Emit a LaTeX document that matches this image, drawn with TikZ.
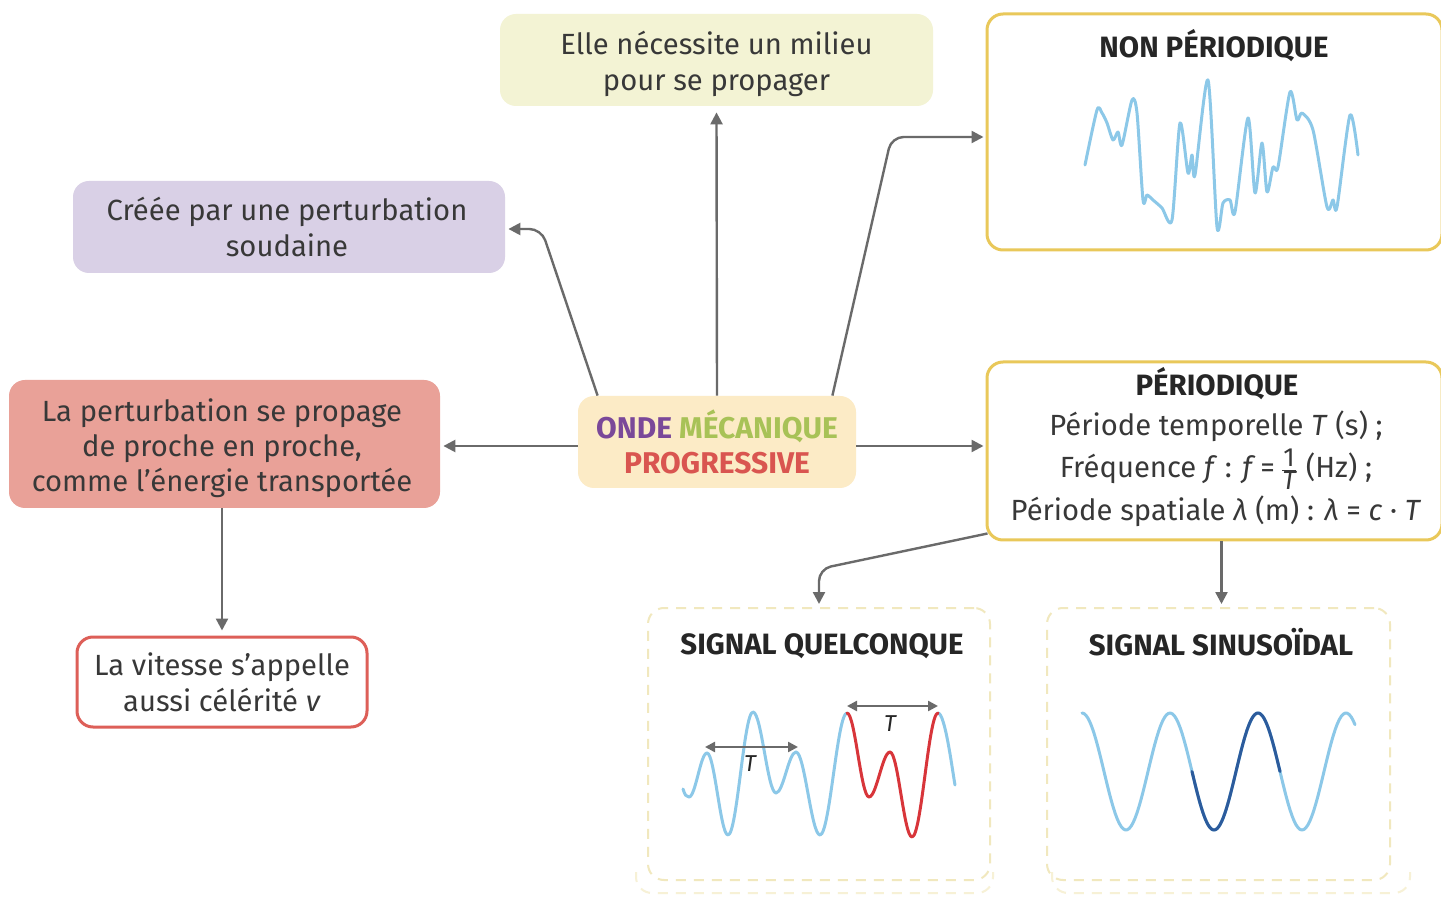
\documentclass[tikz,border=0pt]{standalone}
\usepackage{fontspec}
\setmainfont{Fira Sans}
\usetikzlibrary{arrows.meta,calc}
\definecolor{txt}{HTML}{383838}
\definecolor{titletxt}{HTML}{262626}
\definecolor{arrowgray}{HTML}{6A6A6A}
\definecolor{elleFill}{HTML}{F3F3D4}
\definecolor{creeFill}{HTML}{D9D0E6}
\definecolor{propFill}{HTML}{E9A198}
\definecolor{vitRed}{HTML}{DD5F58}
\definecolor{ondeFill}{HTML}{FCEBC6}
\definecolor{gold}{HTML}{E9C85A}
\definecolor{dashY}{HTML}{F1E8BE}
\definecolor{dashFaint}{HTML}{F7F1D6}
\definecolor{wave}{HTML}{8CC8E8}
\definecolor{waveRed}{HTML}{D8353A}
\definecolor{waveDark}{HTML}{2C5B9C}
\definecolor{ondePurple}{HTML}{7A4899}
\definecolor{ondeGreen}{HTML}{A8C257}
\definecolor{ondeRed}{HTML}{D95550}
\newcommand{\fracpart}[1]{\hbox{\scalebox{0.9}{#1}}}
\begin{document}
\begin{tikzpicture}[x=0.5pt,y=-0.5pt,
  box/.style={rounded corners=8pt, inner sep=0pt},
  boxtext/.style={align=center, text=txt, font=\fontsize{14.6}{18}\selectfont, inner sep=0pt},
  arr/.style={draw=arrowgray, line width=1.2pt, -{Triangle[length=6pt,width=6pt]}, rounded corners=6pt},
  tarr/.style={draw=arrowgray, line width=1.2pt, {Triangle[length=5pt,width=5pt]}-{Triangle[length=5pt,width=5pt]}},
  titl/.style={font=\fontsize{14.7}{16}\selectfont\bfseries, text=titletxt, inner sep=0pt},
  txtline/.style={font=\fontsize{14.6}{16}\selectfont, text=txt, inner sep=0pt},
  wavel/.style={line width=1.5pt, line cap=round, line join=round},
  dbox/.style={draw=dashY, line width=1pt, dash pattern=on 5pt off 4pt, rounded corners=8pt, inner sep=0pt}
]
\useasboundingbox (0,0) rectangle (1441,898);
\fill[white] (0,0) rectangle (1441,898);

% boxes
\node[box, fill=elleFill, minimum width=216.5pt, minimum height=46pt] (elle) at (716.5,60) {};
\node[boxtext] (elletxt) at (716.5,64) {Elle nécessite un milieu\\pour se propager};
\node[box, fill=creeFill, minimum width=216pt, minimum height=46pt] (cree) at (289,227) {};
\node[boxtext] (creetxt) at (287,227) {Créée par une perturbation\\soudaine};
\node[box, fill=propFill, minimum width=215.5pt, minimum height=64pt] (prop) at (224.5,444) {};
\node[boxtext, font=\fontsize{14.6}{17.5}\selectfont] (proptxt) at (222,448) {La perturbation se propage\\de proche en proche,\\comme l’énergie transportée};
\node[box, draw=vitRed, line width=1.5pt, minimum width=145pt, minimum height=45pt] (vit) at (222,682) {};
\node[boxtext] (vittxt) at (222,682) {La vitesse s’appelle\\aussi célérité \textit{v}};
\node[box, fill=ondeFill, minimum width=139pt, minimum height=46pt] (onde) at (717,442) {};
\node[boxtext, font=\fontsize{15}{17.5}\selectfont\bfseries] (ondetxt) at (717,442) {{\color{ondePurple}ONDE} {\color{ondeGreen}MÉCANIQUE}\\{\color{ondeRed}PROGRESSIVE}};

\node[draw=gold, line width=1.5pt, rounded corners=8pt, minimum width=227.5pt, minimum height=118pt, inner sep=0pt] (nonp) at (1214.5,132) {};
\node[titl] (nonptitle) at (1214,46) {NON PÉRIODIQUE};

\node[draw=gold, line width=1.5pt, rounded corners=8pt, minimum width=227.5pt, minimum height=89pt, inner sep=0pt] (per) at (1214.5,451) {};
\node[titl] (pertitle) at (1217,384) {PÉRIODIQUE};
\node[txtline] (perl1) at (1216,426) {Période temporelle \textit{T} (s) ;};
\node[txtline] (perl2) at (1216,469) {Fréquence \textit{f} : \textit{f}\,=\,$\frac{\fracpart{1}}{\fracpart{\itshape T}}$ (Hz) ;};
\node[txtline] (perl3) at (1216,511) {Période spatiale \textit{λ} (m) : \textit{λ} = \textit{c} · \textit{T}};

\node[dbox, minimum width=171pt, minimum height=136pt] (quel) at (819,744) {};
\node[titl] (queltitle) at (822,646) {SIGNAL QUELCONQUE};
\node[dbox, minimum width=171.5pt, minimum height=136pt] (sinus) at (1218.5,744) {};
\node[titl] (sinustitle) at (1221,642) {SIGNAL SINUSOÏDAL};

% faint outer dashed bottoms
\draw[draw=dashFaint, line width=1pt, dash pattern=on 5pt off 4pt, rounded corners=8pt] (636,872) -- (636,893) -- (993,893) -- (993,872);
\draw[draw=dashFaint, line width=1pt, dash pattern=on 5pt off 4pt, rounded corners=8pt] (1052,872) -- (1052,893) -- (1410,893) -- (1410,872);

% connectors
\draw[arr] (onde.north) -- ($(elle.south)+(0,6)$);
\draw[arr] ($(onde.north west)+(20,0)$) -- ($(cree.east)+(36,2)$) -- ($(cree.east)+(3,2)$);
\draw[arr] ($(onde.north east)+(-24,0)$) -- ($(nonp.west)+(-94,5)$) -- ($(nonp.west)+(-2,5)$);
\draw[arr] ($(onde.west)+(0,4)$) -- ($(onde.west -| prop.east)+(3,4)$);
\draw[arr] ($(onde.east)+(0,4)$) -- ($(onde.east -| per.west)+(-2,4)$);
\draw[arr] (prop.south -| vit.north) -- ($(vit.north)+(0,-5)$);
\draw[arr] ($(per.south west)+(2,-8)$) -- ($(quel.north)+(0,-38)$) -- ($(quel.north)+(0,-3)$);
\draw[arr] ($(per.south -| sinus.north)+(3,0)$) -- ($(sinus.north)+(3,-3)$);

% non periodic wave
\draw[wavel, draw=wave] plot[smooth, tension=0.45] coordinates {(1085,165) (1097,110) (1102,113) (1107,123) (1113,140) (1118,132) (1122,145) (1132,100) (1137,113) (1143,200) (1147,195) (1153,200) (1162,208) (1172,220) (1180,123) (1188,173) (1192,155) (1195,175) (1208,80) (1217,227) (1223,203) (1230,200) (1235,212) (1248,118) (1255,193) (1262,143) (1267,192) (1273,167) (1278,167) (1290,92) (1297,120) (1302,113) (1313,130) (1327,207) (1333,200) (1337,207) (1350,115) (1358,155)};

% signal quelconque
\draw[wavel, draw=wave] (683,789) .. controls (685,795) and +(-3,0) .. (689,797)
  .. controls +(6.5,0) and +(-6.5,0) .. (707,753)
  .. controls +(7.6,0) and +(-7.6,0) .. (728,835)
  .. controls +(9.1,0) and +(-9.1,0) .. (753,712)
  .. controls +(8.4,0) and +(-8.4,0) .. (776,793)
  .. controls +(7.3,0) and +(-7.3,0) .. (796,752)
  .. controls +(8.7,0) and +(-8.7,0) .. (820,835)
  .. controls +(9.8,0) and +(-9.8,0) .. (847,713);
\draw[wavel, draw=wave] (938,713) .. controls +(7,0) and (952,768) .. (955,785);
\draw[wavel, draw=waveRed] (847,713)
  .. controls +(8,0) and +(-8,0) .. (869,797)
  .. controls +(7.6,0) and +(-7.6,0) .. (890,752)
  .. controls +(8,0) and +(-8,0) .. (912,837)
  .. controls +(9.5,0) and +(-9.5,0) .. (938,713);
\coordinate (t1a) at (705,747);
\coordinate (t1b) at (798,747);
\coordinate (t2a) at (847,706);
\coordinate (t2b) at (938,706);
\draw[tarr] (t1a) -- (t1b);
\draw[tarr] (t2a) -- (t2b);
\node[font=\fontsize{11.5}{12}\selectfont\itshape, text=titletxt] (tl1) at (750,764) {T};
\node[font=\fontsize{11.5}{12}\selectfont\itshape, text=titletxt] (tl2) at (890,724) {T};

% sinusoid
\draw[wavel, draw=wave] plot[domain=1082:1355, samples=140] (\x, {771.5-58.5*cos(4.090909*(\x-1170))});
\draw[wavel, draw=waveDark] plot[domain=1192:1280, samples=60] (\x, {771.5-58.5*cos(4.090909*(\x-1170))});
\end{tikzpicture}
\end{document}
